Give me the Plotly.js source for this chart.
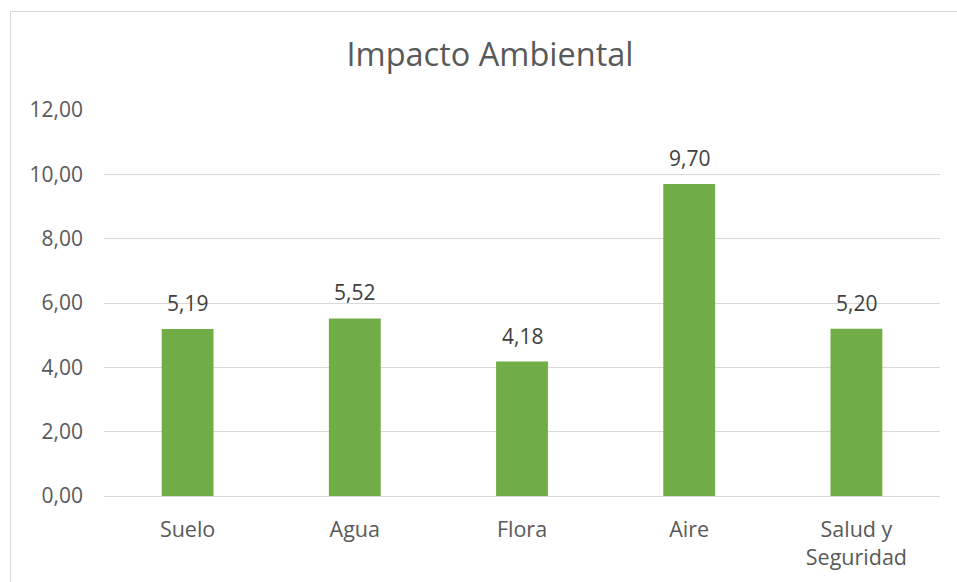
<!DOCTYPE html>
<html>
<head>
<meta charset="utf-8">
<script src="https://cdn.plot.ly/plotly-3.0.1.min.js"></script>
<style>
  html, body { margin: 0; padding: 0; background: #ffffff; overflow: hidden; }
  #chart { position: absolute; left: 0; top: 0; width: 957px; height: 582px; }
  #frame { position: absolute; left: 10px; top: 11px; width: 1200px; height: 1200px;
           border-left: 1px solid #d9d9d9; border-top: 1px solid #d9d9d9; pointer-events: none; }
</style>
</head>
<body>
<div id="chart"></div>
<div id="frame"></div>
<script>
// Environmental impact scores per component
const categories = ["Suelo", "Agua", "Flora", "Aire", "Salud y<br>Seguridad"];
const values = [5.19, 5.52, 4.18, 9.70, 5.20];
const tickValues = [0, 2, 4, 6, 8, 10, 12];

const fontFamily = '"Open Sans", "DejaVu Sans", sans-serif';

const fmt = v => v.toFixed(2).replace('.', ',');

const trace = {
  type: 'bar',
  x: categories,
  y: values,
  marker: { color: '#70ad47' },
  hoverinfo: 'skip'
};

const labels = categories.map((c, i) => ({
  x: c,
  y: values[i],
  xref: 'x',
  yref: 'y',
  text: fmt(values[i]),
  showarrow: false,
  yanchor: 'middle',
  yshift: 26,
  font: { family: fontFamily, size: 21, color: '#404040' }
}));

const layout = {
  width: 957,
  height: 582,
  margin: { l: 104, r: 17, t: 110, b: 86 },
  paper_bgcolor: 'rgba(0,0,0,0)',
  plot_bgcolor: '#ffffff',
  bargap: 0.69,
  separators: ',.',
  showlegend: false,
  title: {
    text: 'Impacto Ambiental',
    font: { family: fontFamily, size: 32.5, color: '#595959' },
    xref: 'container',
    yref: 'container',
    x: 490 / 957,
    xanchor: 'center',
    y: 1 - 55 / 582,
    yanchor: 'middle'
  },
  xaxis: {
    type: 'category',
    showgrid: false,
    showline: true,
    linecolor: '#d9d9d9',
    linewidth: 1,
    ticks: '',
    zeroline: false,
    tickfont: { family: fontFamily, size: 21.5, color: '#595959' },
    ticklabelstandoff: 14
  },
  yaxis: {
    range: [0, 12],
    tickvals: tickValues,
    ticktext: tickValues.map(fmt),
    showgrid: true,
    gridcolor: '#d9d9d9',
    gridwidth: 1,
    zeroline: false,
    showline: false,
    ticks: '',
    tickfont: { family: fontFamily, size: 21, color: '#595959' },
    ticklabelstandoff: 20
  },
  annotations: labels
};

Plotly.newPlot('chart', [trace], layout, { displayModeBar: false, staticPlot: true });
</script>
</body>
</html>
